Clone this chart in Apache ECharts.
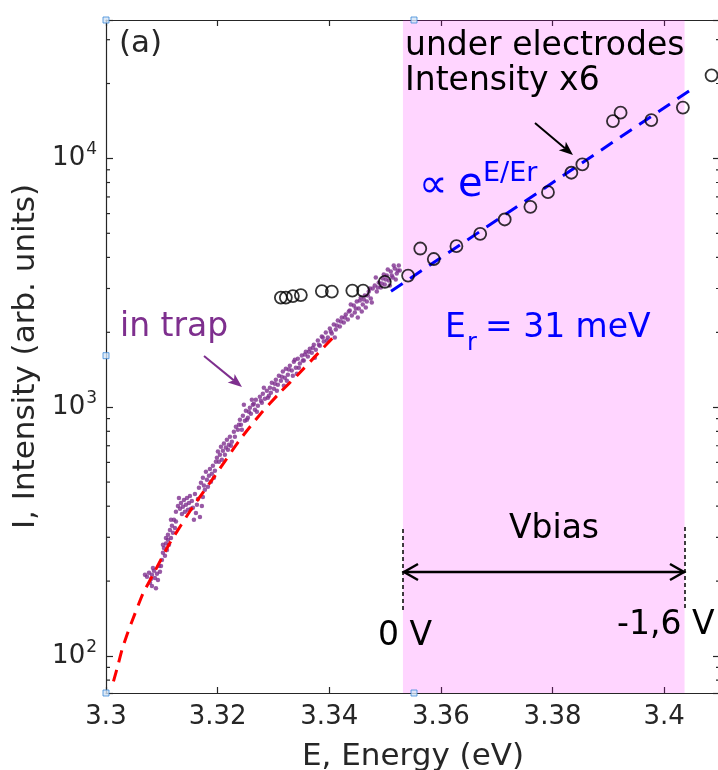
<!DOCTYPE html>
<html><head><meta charset="utf-8">
<script src="https://cdn.jsdelivr.net/npm/echarts@6/dist/echarts.min.js"></script>
<style>html,body{margin:0;padding:0;background:#fff}#c{width:718px;height:770px}</style>
</head><body><div id="c"></div>
<script>
// ---------- axis ranges ----------
const X_MIN = 3.3, X_MAX = 3.41, X_STEP = 0.02;
const Y_MIN = 71, Y_MAX = 36000;
const yMinorTicks = [80,90,200,300,400,500,600,700,800,900,2000,3000,4000,5000,6000,7000,8000,9000,20000,30000];

// ---------- "in trap" emission (purple dots) ----------
const trapE = [3.30734,3.30770,3.30806,3.30823,3.30859,3.30877,3.30913,3.30931,3.30895,3.30967,3.30949,
3.31002,3.31020,3.31038,3.31056,3.31074,3.31092,3.31110,3.31110,3.31128,3.31146,3.31164,3.31181,3.31199,3.31217,3.31235,3.31164,
3.31253,3.31289,3.31325,3.31343,3.31378,3.31396,3.31432,3.31450,3.31486,3.31504,3.31539,3.31557,3.31593,3.31611,3.31647,3.31683,3.31718,3.31414,3.31468,
3.31665,3.31701,3.31736,3.31754,3.31790,3.31808,3.31844,3.31862,3.31897,3.31915,3.31951,3.31969,3.31772,
3.31987,3.32005,3.32041,3.32059,3.32094,3.32112,3.32148,3.32166,3.32202,3.32220,3.32255,3.32076,
3.32291,3.32327,3.32363,3.32399,3.32417,3.32452,3.32488,3.32506,3.32542,3.32578,3.32596,3.32631,3.32667,3.32685,3.32721,3.32757,3.32792,3.32810,3.32846,3.32882,3.32918,3.32470,3.32613,
3.32936,3.32971,3.33007,3.33043,3.33079,3.33097,3.33133,3.33168,3.33204,3.33222,3.33258,3.33294,3.33329,3.33365,3.33401,3.33437,3.33473,3.33508,3.33544,3.33580,3.33616,3.33186,3.33419,
3.33652,3.33687,3.33723,3.33759,3.33795,3.33831,3.33866,3.33902,3.33938,3.33974,3.34010,3.34045,3.34081,3.34117,3.34153,3.34189,3.34224,3.34260,3.33741,3.34099,
3.34296,3.34332,3.34368,3.34403,3.34439,3.34457,3.34493,3.34529,3.34565,3.34600,3.34636,3.34672,3.34708,3.34744,3.34779,3.34511,3.34654,
3.34815,3.34851,3.34887,3.34923,3.34958,3.34994,3.35030,3.35066,3.35102,3.35137,3.35173,3.35209,3.35245,3.35263,3.35084,
3.30788,3.30841,3.30698,3.30985,3.31074,3.31020,3.31253,3.31307,3.31361,3.31522,3.31629,3.31736,3.31575,3.31826,3.31880,3.31933,
3.32023,3.32130,3.32184,3.32238,3.32309,3.32381,3.32434,3.32524,3.32560,3.32649,3.32703,3.32775,3.32828,3.32900,3.32954,3.33025,
3.33061,3.33150,3.33240,3.33276,3.33347,3.33383,3.33455,3.33526,3.33562,3.33634,3.33705,3.33813,3.33884,3.33956,3.34028,3.34135,
3.34207,3.34278,3.34350,3.34385,3.34475,3.34547,3.34582,3.34618,3.34690,3.34726,3.34762,3.34833,3.34869,3.34941,3.34976,3.35012,
3.35048,3.35120,3.35155,3.35191,3.35227,3.30823];
const trapI = [208,216,204,212,220,206,214,202,187,218,230,
243,260,272,253,283,267,293,307,280,321,298,334,313,353,327,353,
380,401,391,412,398,424,405,432,412,440,420,394,448,376,428,362,401,380,387,
475,497,521,484,550,511,530,565,540,582,555,604,466,
627,663,644,694,669,714,688,740,707,761,726,615,
797,834,812,891,850,924,883,968,907,995,942,1023,977,1072,1014,1102,1043,1133,1082,1165,1113,1023,1072,
1198,1255,1187,1290,1232,1339,1278,1390,1314,1429,1351,1469,1403,1524,1442,1567,1497,1612,1539,1672,1597,1221,1364,
1719,1656,1784,1703,1852,1768,1922,1835,1995,1904,2070,1976,2148,2051,2229,2109,2292,2188,1582,1904,
2356,2250,2445,2334,2561,2400,2658,2491,2758,2585,2810,2658,2916,2733,2999,2292,2514,
3083,2916,3170,3027,3290,3112,3383,3230,3510,3320,3609,3446,3711,3543,3083,
197,226,212,230,298,280,347,432,372,391,405,436,353,479,502,521,
604,644,675,700,761,850,812,891,959,1033,959,1062,1198,1092,1144,1243,
1165,1326,1278,1416,1339,1553,1442,1539,1627,1672,1735,1784,1904,1852,2013,2128,
2209,2292,2423,2585,2491,2683,2423,2708,2810,2999,2633,3321,3027,3141,3414,3260,
3576,3383,3711,3260,3543,191];

// ---------- red fit (in trap) ----------
const redE = [3.30134,3.30215,3.30287,3.30394,3.30519,3.30662,3.30841,3.31146,3.31557,3.31951,3.32399,3.32757,3.33115,3.33437,3.33777,3.34100];
const redI = [79,92,106,125,148,178,212,285,398,530,740,933,1144,1351,1627,1940];

// ---------- blue fit  ∝ exp(E/Er) ----------
const blueE = [3.35106, 3.40572];
const blueI = [2925, 19490];

// ---------- under electrodes (open circles, x6) ----------
const elecE = [3.33133,3.33222,3.33348,3.33491,3.33867,3.34046,3.34413,3.34606,3.34995,3.35412,3.35630,3.35872,3.36278,3.36704,3.37143,3.37603,3.37918,3.38337,3.38534,3.39082,3.39219,3.39769,3.40335,3.40849];
const elecI = [2758,2758,2797,2823,2930,2917,2943,2943,3190,3382,4343,3941,4437,4977,5682,6391,7317,8758,9460,14130,15270,14260,16000,21580];

// ---------- Vbias band ----------
const bandE = [3.3532, 3.40365];

// ---------- selection handles ----------
const handleE = [3.3, 3.35518, 3.3, 3.3, 3.35518];
const handleI = [36000, 36000, 1611, 71, 71];

const zip = (a, b) => a.map((v, i) => [v, b[i]]);
const AX = '#262626';
const FONT = 'DejaVu Sans';

const chart = echarts.init(document.getElementById('c'), null, {renderer: 'canvas'});

function isDecade(v) { const l = Math.log10(v); return Math.abs(l - Math.round(l)) < 1e-6; }

const option = {
  backgroundColor: '#fff',
  animation: false,
  grid: {left: 106, top: 20, right: -2, bottom: 77, outerBoundsMode: 'none', containLabel: false},
  xAxis: [{
    type: 'value', min: X_MIN, max: X_MAX, interval: X_STEP, position: 'bottom',
    axisLine: {lineStyle: {color: AX, width: 1.2}},
    axisTick: {inside: true, length: 6, lineStyle: {color: AX, width: 1.2}},
    axisLabel: {fontSize: 26, color: AX, fontFamily: FONT, margin: 11,
      formatter: v => Math.abs(v - X_MAX) < 1e-9 ? '' : String(parseFloat(v.toFixed(2)))},
    splitLine: {show: false},
    name: 'E, Energy (eV)', nameLocation: 'middle', nameGap: 48,
    nameTextStyle: {fontSize: 31, color: AX, fontFamily: FONT}
  }, {
    type: 'value', min: X_MIN, max: X_MAX, interval: X_STEP, position: 'top',
    axisLine: {lineStyle: {color: AX, width: 1.2}},
    axisTick: {inside: true, length: 6, lineStyle: {color: AX, width: 1.2}},
    axisLabel: {show: false}, splitLine: {show: false}
  }],
  yAxis: [{
    type: 'log', logBase: 10, min: Y_MIN, max: Y_MAX, position: 'left',
    axisLine: {lineStyle: {color: AX, width: 1.2}},
    axisTick: {inside: true, length: 7, lineStyle: {color: AX, width: 1.2}},
    axisLabel: {margin: 9, color: AX,
      formatter: v => isDecade(v) ? '{b|10}{s|' + Math.round(Math.log10(v)) + '}' : '',
      rich: {
        b: {fontSize: 26, color: AX, fontFamily: FONT, lineHeight: 26, verticalAlign: 'bottom'},
        s: {fontSize: 17, color: AX, fontFamily: FONT, lineHeight: 17, verticalAlign: 'bottom', padding: [0, 0, 13, 1]}
      }},
    splitLine: {show: false},
    name: 'I, Intensity (arb. units)', nameLocation: 'middle', nameGap: 62,
    nameTextStyle: {fontSize: 31, color: AX, fontFamily: FONT}
  }, {
    type: 'log', logBase: 10, min: Y_MIN, max: Y_MAX, position: 'right',
    axisLine: {lineStyle: {color: AX, width: 1.2}},
    axisTick: {inside: true, length: 7, lineStyle: {color: AX, width: 1.2}},
    axisLabel: {show: false}, splitLine: {show: false}
  }],
  series: [
    {
      name: 'in trap', type: 'scatter', data: zip(trapE, trapI), symbol: 'circle', symbolSize: 4.5,
      itemStyle: {color: '#7E2F8E'}, z: 3, silent: true
    },
    {
      name: 'red fit', type: 'line', data: zip(redE, redI), showSymbol: false, smooth: 0.2,
      lineStyle: {color: '#ff0000', width: 3, type: [12, 8]}, z: 4, silent: true
    },
    {
      name: 'blue fit', type: 'line', data: zip(blueE, blueI), showSymbol: false,
      lineStyle: {color: '#0000ff', width: 3, type: [14, 9]}, z: 4, silent: true
    },
    {
      name: 'under electrodes', type: 'scatter', data: zip(elecE, elecI), symbol: 'circle', symbolSize: 12,
      itemStyle: {color: 'rgba(0,0,0,0)', borderColor: '#000', borderWidth: 1.8}, z: 5, silent: true
    },
    {
      name: 'minor ticks', type: 'custom', coordinateSystem: 'cartesian2d', clip: false, silent: true,
      data: yMinorTicks.map(v => [X_MIN, v]), encode: {x: 0, y: 1}, z: 6,
      renderItem: (params, api) => {
        const v = api.value(1);
        const l = api.coord([X_MIN, v]);
        const r = api.coord([X_MAX, v]);
        const st = {stroke: AX, lineWidth: 1.2};
        return {type: 'group', children: [
          {type: 'line', shape: {x1: l[0], y1: l[1], x2: l[0] + 4, y2: l[1]}, style: st},
          {type: 'line', shape: {x1: r[0], y1: r[1], x2: r[0] - 4, y2: r[1]}, style: st}
        ]};
      }
    },
    {
      name: 'band', type: 'scatter', data: [], z: 50, silent: true,
      markArea: {silent: true, itemStyle: {color: 'rgba(255,0,255,0.165)'},
        data: [[{xAxis: bandE[0]}, {xAxis: bandE[1]}]]}
    },
    {
      name: 'handles', type: 'scatter', data: zip(handleE, handleI), symbol: 'rect', symbolSize: 6,
      clip: false, itemStyle: {color: '#d4e5f6', borderColor: '#3d8bd8', borderWidth: 1}, z: 60, silent: true
    }
  ]
};
chart.setOption(option);

// ---------- annotations ----------
function T(text, x, base, fs, color, align) {
  return {type: 'text', x: x, y: base - 0.35 * fs, z: 10, silent: true,
    style: {text: text, fill: color, fontSize: fs, fontFamily: FONT, align: align || 'left', verticalAlign: 'middle'}};
}
function arrow(x1, y1, x2, y2, color, w, hl, hw) {
  const dx = x2 - x1, dy = y2 - y1, L = Math.hypot(dx, dy), ux = dx / L, uy = dy / L;
  const bx = x2 - ux * hl, by = y2 - uy * hl, nx = x2 - ux * hl * 0.75, ny = y2 - uy * hl * 0.75;
  return [
    {type: 'line', z: 10, silent: true, shape: {x1: x1, y1: y1, x2: nx, y2: ny}, style: {stroke: color, lineWidth: w}},
    {type: 'polygon', z: 10, silent: true, shape: {points: [[x2, y2], [bx - uy * hw, by + ux * hw], [nx, ny], [bx + uy * hw, by - ux * hw]]},
      style: {fill: color}}
  ];
}
const BLUE = '#0000ff', PURP = '#7E2F8E', DARK = '#000';
const g = [
  T('(a)', 119, 55, 31, AX),
  T('under electrodes', 405, 58, 33, DARK),
  T('Intensity x6', 405, 93, 33, DARK),
  T('\u221D', 419, 201, 40, BLUE),
  T('e', 458, 200, 40, BLUE),
  T('E/Er', 483, 183, 27, BLUE),
  T('E', 445, 340, 33, BLUE),
  T('r', 467, 352, 24, BLUE),
  T('= 31 meV', 485, 340, 33, BLUE),
  T('in trap', 120, 339, 33, PURP),
  T('Vbias', 554, 541, 33, DARK, 'center'),
  T('0 V', 378, 648, 33, DARK),
  T('-1,6 V', 617, 637, 33, DARK),
  ...arrow(535, 123, 573, 155, DARK, 2, 14, 5.5),
  ...arrow(204, 356, 242, 387, PURP, 2, 14, 5.5),
  {type: 'line', z: 10, silent: true, shape: {x1: 403, y1: 572, x2: 685, y2: 572}, style: {stroke: DARK, lineWidth: 2.5}},
  {type: 'polyline', z: 10, silent: true, shape: {points: [[418, 564], [404, 572], [418, 580]]}, style: {stroke: DARK, lineWidth: 2.5, fill: null}},
  {type: 'polyline', z: 10, silent: true, shape: {points: [[670, 564], [684, 572], [670, 580]]}, style: {stroke: DARK, lineWidth: 2.5, fill: null}},
  {type: 'line', z: 10, silent: true, shape: {x1: 403, y1: 529, x2: 403, y2: 610}, style: {stroke: DARK, lineWidth: 1.5, lineDash: [4, 3]}},
  {type: 'line', z: 10, silent: true, shape: {x1: 685, y1: 527, x2: 685, y2: 608}, style: {stroke: DARK, lineWidth: 1.5, lineDash: [4, 3]}}
];
chart.setOption({graphic: {elements: g}});
</script>
</body></html>
